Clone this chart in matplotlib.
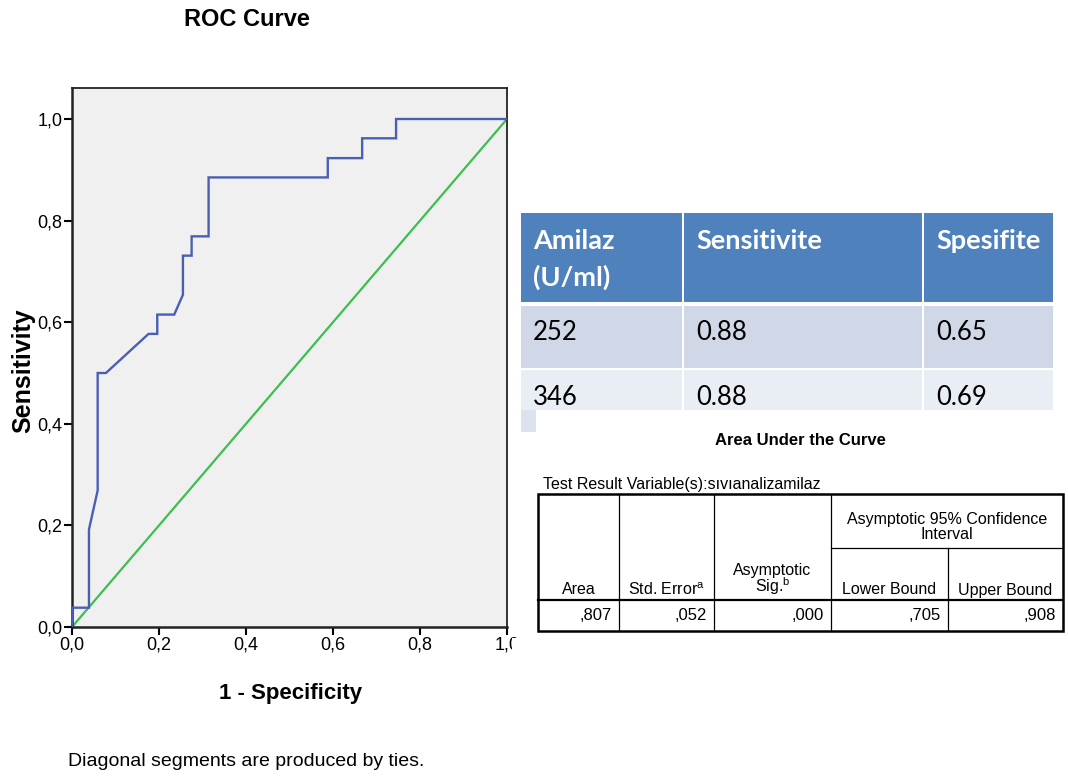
import matplotlib
matplotlib.use("Agg")
import matplotlib.pyplot as plt
from matplotlib.patches import Rectangle

plt.rcParams['font.family'] = ['Liberation Sans Narrow', 'Liberation Sans', 'DejaVu Sans']
plt.rcParams['mathtext.default'] = 'regular'

# ---- ROC data ----
fpr = [0.0, 0.0, 0.039, 0.039, 0.059, 0.059, 0.078, 0.176, 0.196, 0.196, 0.235, 0.255,
       0.255, 0.275, 0.275, 0.314, 0.314, 0.588, 0.588, 0.667, 0.667, 0.745, 0.745, 1.0]
tpr = [0.0, 0.038, 0.038, 0.192, 0.269, 0.500, 0.500, 0.577, 0.577, 0.615, 0.615, 0.654,
       0.731, 0.731, 0.769, 0.769, 0.885, 0.885, 0.923, 0.923, 0.962, 0.962, 1.0, 1.0]
ref_line = [0.0, 1.0]
ticks = [0.0, 0.2, 0.4, 0.6, 0.8, 1.0]
tick_labels = ['0,0', '0,2', '0,4', '0,6', '0,8', '1,0']

# ---- cut-off table ----
tbl_header = ['Amilaz\n(U/ml)', 'Sensitivite', 'Spesifite']
amilaz = [252, 346]
sens_vals = [0.88, 0.88]
spec_vals = [0.65, 0.69]

# ---- AUC table ----
auc_headers = ['Area', 'Std. Error$^{a}$', 'Asymptotic\nSig.$^{b}$', 'Lower Bound', 'Upper Bound']
auc_values = [',807', ',052', ',000', ',705', ',908']

W, H = 1068, 778
fig = plt.figure(figsize=(W / 100, H / 100), dpi=100)
fig.patch.set_facecolor('white')

# overlay axes in pixel coordinates for free text / AUC table
ov = fig.add_axes([0, 0, 1, 1])
ov.set_xlim(0, W)
ov.set_ylim(H, 0)
ov.axis('off')
ov.patch.set_alpha(0)
ov.set_zorder(10)

# ---- ROC axes ----
x0, x1, ytop, ybot = 72, 507, 88, 627
ax = fig.add_axes([x0 / W, (H - ybot) / H, (x1 - x0) / W, (ybot - ytop) / H])
ax.set_facecolor('#F0F0F0')
ax.plot(fpr, tpr, color='#4A5FB4', lw=1.7, zorder=3, solid_joinstyle='miter')
ax.plot(ref_line, ref_line, color='#3CBF50', lw=1.6, zorder=2)
ax.set_xlim(0, 1)
ax.set_ylim(0, (ybot - ytop) / (ybot - 119))
ax.set_xticks(ticks)
ax.set_yticks(ticks)
ax.set_xticklabels(tick_labels)
ax.set_yticklabels(tick_labels)
ax.tick_params(direction='out', length=6, width=1.5, labelsize=13, pad=1, color='black')
for s in ax.spines.values():
    s.set_color('#222222')
    s.set_linewidth(1.3)
ax.spines['left'].set_linewidth(1.8)
ax.spines['bottom'].set_linewidth(1.8)

fig.text(247 / W, 1 - 19 / H, 'ROC Curve', ha='center', va='center', fontsize=17, fontweight='bold')
fig.text(291 / W, 1 - 693 / H, '1 - Specificity', ha='center', va='center', fontsize=16, fontweight='bold')
fig.text(23 / W, 1 - 371 / H, 'Sensitivity', ha='center', va='center', rotation=90,
         fontsize=18, fontweight='bold')
fig.text(68 / W, 1 - 761 / H, 'Diagonal segments are produced by ties.', ha='left', va='center',
         fontsize=14)

# the source image is cropped just right of the plot frame
ov.add_patch(Rectangle((512, 638), 25, 32, facecolor='white', edgecolor='none', zorder=50))

# ---- cut-off table (PowerPoint style) ----
tx0, tx1, ty0, ty1 = 521, 1053, 213, 410
tax = fig.add_axes([tx0 / W, (H - ty1) / H, (tx1 - tx0) / W, (ty1 - ty0) / H])
tax.set_xlim(tx0, tx1)
tax.set_ylim(ty1, ty0)
tax.axis('off')
cols = [(521, 682), (684, 922), (924, 1053)]
rows = [(213, 302, '#4F81BD'), (306, 368, '#D0D8E8'), (370, 412, '#E9EDF4')]
for (ya, yb, c) in rows:
    for (xa, xb) in cols:
        tax.add_patch(Rectangle((xa, ya), xb - xa, yb - ya, facecolor=c, edgecolor='none'))
tfont = ['Lato', 'Open Sans', 'DejaVu Sans']
for (xa, xb), h in zip(cols, tbl_header):
    tax.text(xa + 12, 229, h, ha='left', va='top', fontsize=19.5, fontweight='bold', color='white',
             family=tfont, linespacing=1.55)
row_y = [333, 398]
for i in range(len(amilaz)):
    vals = [str(amilaz[i]), f'{sens_vals[i]:.2f}', f'{spec_vals[i]:.2f}']
    for (xa, xb), v in zip(cols, vals):
        tax.text(xa + 12, row_y[i], v, ha='left', va='center', fontsize=18.5, color='black',
                 family=tfont, clip_on=True)
ov.add_patch(Rectangle((521, 410), 15, 22, facecolor='#DCE3EF', edgecolor='none'))

# ---- AUC table ----
ov.text(800, 440, 'Area Under the Curve', ha='center', va='center', fontsize=12, fontweight='bold')
ov.text(543, 484, 'Test Result Variable(s):sıvıanalizamilaz', ha='left', va='center', fontsize=11.5)
cx = [538, 619, 714, 831, 948, 1063]
top, sub, hb, bot = 494, 548, 600, 631
ov.add_patch(Rectangle((cx[0], top), cx[-1] - cx[0], bot - top, facecolor='white',
                       edgecolor='black', lw=1.8, zorder=5))
for x in cx[1:-1]:
    yst = top if x != 948 else sub
    ov.plot([x, x], [yst, bot], color='black', lw=0.9, zorder=6)
ov.plot([cx[3], cx[5]], [sub, sub], color='black', lw=0.9, zorder=6)
ov.plot([cx[0], cx[5]], [hb, hb], color='black', lw=1.6, zorder=6)
ov.text((cx[3] + cx[5]) / 2, 527, 'Asymptotic 95% Confidence\nInterval', ha='center', va='center',
        fontsize=11.5, linespacing=0.95, zorder=7)
for i, h in enumerate(auc_headers):
    cxm = (cx[i] + cx[i + 1]) / 2
    if i == 2:
        ov.text(cxm, 580, h, ha='center', va='center', fontsize=11.5, linespacing=0.85, zorder=7)
    else:
        ov.text(cxm, 590, h, ha='center', va='center', fontsize=11.5, zorder=7)
for i, v in enumerate(auc_values):
    ov.text(cx[i + 1] - 7, 616, v, ha='right', va='center', fontsize=12, zorder=7)

fig.savefig('out.png', dpi=100)
